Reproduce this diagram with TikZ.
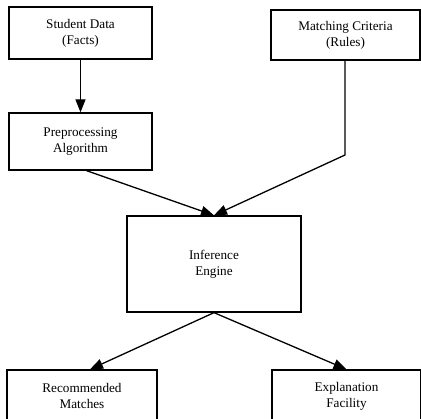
\documentclass[tikz,border=0pt]{standalone}
\usepackage{fontspec}
\setmainfont{Liberation Serif}
\usetikzlibrary{arrows.meta,calc}
\begin{document}
\begin{tikzpicture}[x=1pt,y=-1pt,
  box/.style={draw,line width=1.3pt,rectangle,inner sep=0pt,align=center,
    font=\fontsize{13.2}{16}\selectfont},
  conn/.style={line width=1.3pt},
  arr/.style={conn,-{Triangle[length=13pt,width=10pt]}}]
\useasboundingbox (0,0) rectangle (421,419);
\clip (0,0) rectangle (421,419);
\node[box,minimum width=143pt,minimum height=52pt] (sd) at (80.5,33) {Student Data\\(Facts)};
\node[box,minimum width=143pt,minimum height=57pt] (pa) at (80.5,141.5) {Preprocessing\\Algorithm};
\node[box,minimum width=149pt,minimum height=50pt] (mc) at (345.5,35) {Matching Criteria\\(Rules)};
\node[box,minimum width=174pt,minimum height=96pt] (ie) at (214,264) {Inference\\Engine};
\node[box,minimum width=150pt,minimum height=52pt] (rm) at (82,396) {Recommended\\Matches};
\node[box,minimum width=149pt,minimum height=52pt] (ef) at (346.5,396) {Explanation\\Facility};
\coordinate (bend) at (345,155);
\draw[arr] (sd.south) -- (pa.north);
\draw[arr] ($(pa.south)+(6,0)$) -- (ie.north);
\draw[arr] (mc.south -| bend) -- (bend) -- (ie.north);
\draw[arr] (ie.south) -- ($(rm.north)+(8,0)$);
\draw[arr] (ie.south) -- (ef.north);
\end{tikzpicture}
\end{document}
